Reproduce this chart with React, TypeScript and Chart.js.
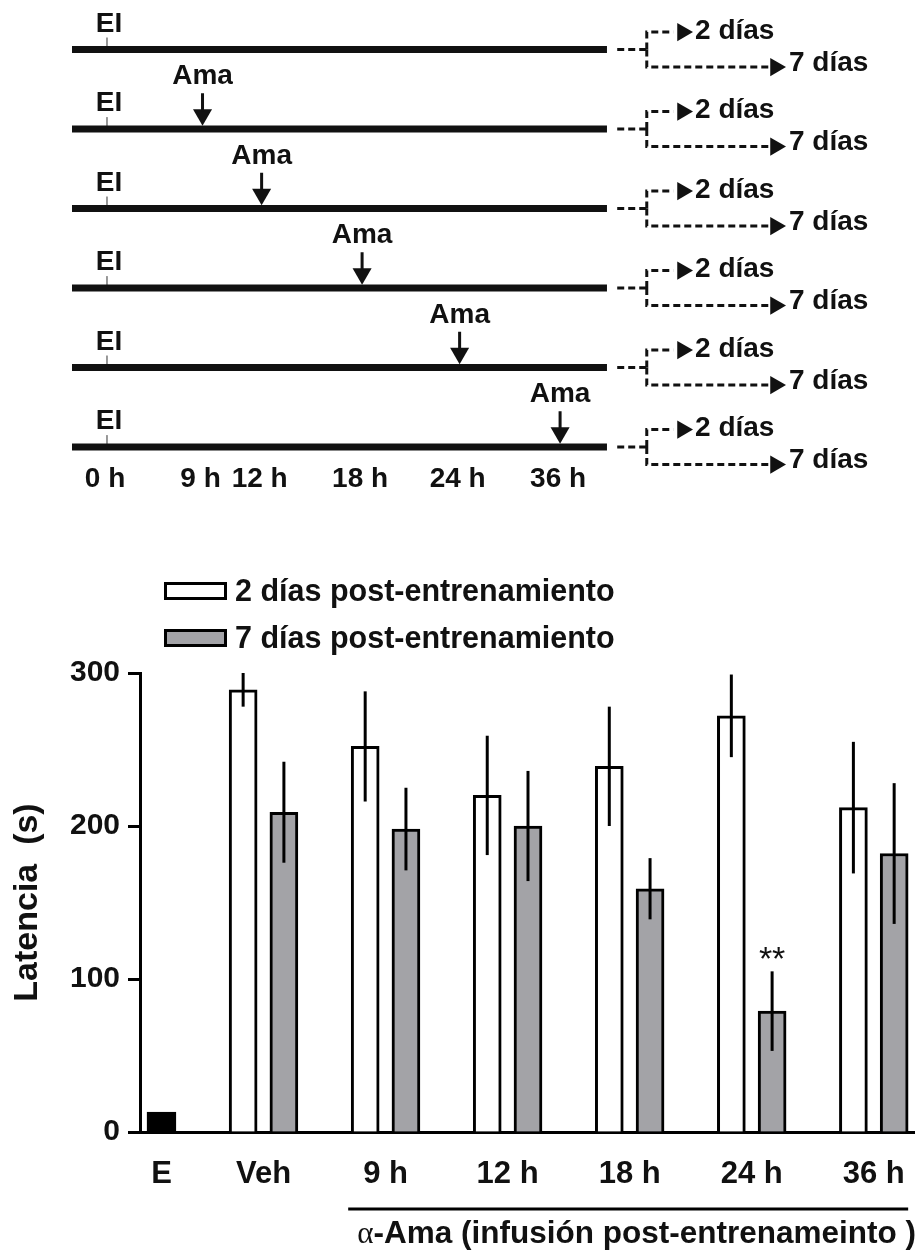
import React, { useEffect, useRef } from "react";
import { Chart, registerables } from "chart.js";

Chart.register(...registerables);

const FONT = "'Liberation Sans', Arial, Helvetica, sans-serif";
const SERIF = "'Liberation Serif', 'DejaVu Serif', serif";
const INK = "#111111";
const GREY = "#a3a3a7";

// ---------- bar chart data ----------
const groups = ["E", "Veh", "9 h", "12 h", "18 h", "24 h", "36 h"];
const groupSlot = [0.164, 1, 2, 3, 4, 5, 6]; // placement of each group on the x axis
const eValue = 13;
const twoDays = [289, 252, 220, 239, 272, 212];
const twoDaysErr = [11, 36, 39, 39, 27, 43];
const sevenDays = [209, 198, 200, 159, 79, 182];
const sevenDaysErr = [33, 27, 36, 20, 26, 46];
const seriesLabels = ["2 días post-entrenamiento", "7 días post-entrenamiento"];
const sevenDaysMarks = ["", "", "", "", "**", ""];
const yTitle = "Latencia  (s)";
const captionAlpha = "α";
const captionText = "-Ama (infusión post-entrenameinto )";

// ---------- timeline data ----------
const timeLabels = ["0 h", "9 h", "12 h", "18 h", "24 h", "36 h"];
const timeSlot = [0, 0.97, 1.57, 2.59, 3.58, 4.6]; // schematic placement of each time
const amaIndex = [null, 1, 2, 3, 4, 5]; // per row: which time the Ama arrow points to
const trainingLabel = "EI";
const drugLabel = "Ama";
const outcomeLabels = ["2 días", "7 días"];

function lineDs(data: any[], width: number, color = INK, dash: number[] = []) {
  return {
    type: "line",
    data,
    borderColor: color,
    borderWidth: width,
    borderDash: dash,
    borderCapStyle: "butt",
    borderJoinStyle: "miter",
    pointRadius: 0,
    showLine: true,
    fill: false,
    tension: 0,
    clip: false,
  };
}
function triDs(data: any[], rotation: number, radius: number) {
  return {
    type: "line",
    data,
    showLine: false,
    pointStyle: "triangle",
    pointRotation: rotation,
    pointRadius: radius,
    pointBackgroundColor: INK,
    pointBorderColor: INK,
    pointBorderWidth: 0,
    clip: false,
  };
}

function timelineDatasets() {
  const ds: any[] = [];
  amaIndex.forEach((ai, r0) => {
    const r = r0 + 1;
    ds.push(lineDs([{ x: -0.355, y: r }, { x: 5.076, y: r }], 7));
    ds.push(lineDs([{ x: timeSlot[0], y: r - 0.15 }, { x: timeSlot[0], y: r - 0.04 }], 1, "#8a8a8a"));
    ds.push(lineDs([{ x: 5.18, y: r }, { x: 5.48, y: r }], 3, INK, [7, 4]));
    ds.push(lineDs([{ x: 5.48, y: r }, { x: 5.48, y: r - 0.22 }, { x: 5.75, y: r - 0.22 }], 3, INK, [7, 4]));
    ds.push(lineDs([{ x: 5.48, y: r }, { x: 5.48, y: r + 0.22 }, { x: 6.72, y: r + 0.22 }], 3, INK, [7, 4]));
    ds.push(triDs([{ x: 5.843, y: r - 0.22 }, { x: 6.787, y: r + 0.22 }], 90, 10.5));
    if (ai != null) {
      const s = timeSlot[ai];
      ds.push(lineDs([{ x: s, y: r - 0.45 }, { x: s, y: r - 0.22 }], 3));
      ds.push(triDs([{ x: s, y: r - 0.18 }], 180, 11));
    }
  });
  return ds;
}

const timelineText = {
  id: "timelineText",
  afterDatasetsDraw(chart: any) {
    const { ctx, scales } = chart;
    const x = scales.x;
    const y = scales.y;
    ctx.save();
    ctx.fillStyle = INK;
    ctx.font = `bold 28px ${FONT}`;
    ctx.textBaseline = "middle";
    amaIndex.forEach((ai, r0) => {
      const r = r0 + 1;
      ctx.textAlign = "center";
      ctx.fillText(trainingLabel, x.getPixelForValue(timeSlot[0] + 0.02), y.getPixelForValue(r - 0.32));
      if (ai != null) {
        ctx.fillText(drugLabel, x.getPixelForValue(timeSlot[ai]), y.getPixelForValue(r - 0.66));
      }
      ctx.textAlign = "left";
      ctx.fillText(outcomeLabels[0], x.getPixelForValue(5.97), y.getPixelForValue(r - 0.235));
      ctx.fillText(outcomeLabels[1], x.getPixelForValue(6.924), y.getPixelForValue(r + 0.17));
    });
    ctx.textAlign = "center";
    timeLabels.forEach((t, i) => {
      ctx.fillText(t, x.getPixelForValue(timeSlot[i] - 0.02), y.getPixelForValue(6.41));
    });
    ctx.restore();
  },
};

const errorBars = {
  id: "errorBars",
  afterDatasetsDraw(chart: any) {
    const { ctx } = chart;
    const yScale = chart.scales.y;
    ctx.save();
    ctx.strokeStyle = "#000";
    ctx.lineWidth = 3;
    ctx.lineCap = "butt";
    chart.data.datasets.forEach((ds: any, di: number) => {
      if (!ds.errors) return;
      const meta = chart.getDatasetMeta(di);
      meta.data.forEach((bar: any, i: number) => {
        const v = ds.data[i].y;
        const e = ds.errors[i];
        ctx.beginPath();
        ctx.moveTo(bar.x, yScale.getPixelForValue(v + e));
        ctx.lineTo(bar.x, yScale.getPixelForValue(v - e));
        ctx.stroke();
        if (ds.marks && ds.marks[i]) {
          ctx.fillStyle = INK;
          ctx.font = `34px ${FONT}`;
          ctx.textAlign = "center";
          ctx.textBaseline = "alphabetic";
          ctx.fillText(ds.marks[i], bar.x, yScale.getPixelForValue(v + e) - 1);
        }
      });
    });
    ctx.restore();
  },
};

const boxLegend = {
  id: "boxLegend",
  afterDraw(chart: any) {
    const { ctx, chartArea } = chart;
    const items = chart.data.datasets.filter((d: any) => d.inLegend);
    ctx.save();
    items.forEach((d: any, i: number) => {
      const cy = chartArea.top - 82 + i * 47;
      const left = chartArea.left + 24;
      ctx.fillStyle = d.backgroundColor;
      ctx.fillRect(left, cy - 9, 63, 18);
      ctx.strokeStyle = "#000";
      ctx.lineWidth = 3;
      ctx.strokeRect(left + 1.5, cy - 7.5, 60, 15);
      ctx.fillStyle = INK;
      ctx.font = `bold 30.5px ${FONT}`;
      ctx.textAlign = "left";
      ctx.textBaseline = "alphabetic";
      ctx.fillText(d.label, left + 71, cy + 10);
    });
    ctx.restore();
  },
};

const groupCaption = {
  id: "groupCaption",
  afterDraw(chart: any) {
    const { ctx, chartArea } = chart;
    const white = chart.getDatasetMeta(1).data;
    const grey = chart.getDatasetMeta(2).data;
    const first = white[1];
    const last = grey[grey.length - 1];
    const x0 = first.x - first.width / 2 - 3;
    const x1 = last.x + last.width / 2;
    const ly = chartArea.bottom + 77;
    ctx.save();
    ctx.strokeStyle = "#000";
    ctx.lineWidth = 3;
    ctx.beginPath();
    ctx.moveTo(x0, ly);
    ctx.lineTo(x1, ly);
    ctx.stroke();
    ctx.fillStyle = INK;
    ctx.textBaseline = "alphabetic";
    ctx.textAlign = "left";
    const by = chartArea.bottom + 111;
    ctx.font = `31px ${SERIF}`;
    const aw = ctx.measureText(captionAlpha).width;
    ctx.fillText(captionAlpha, x0 + 9, by);
    ctx.font = `bold 31.5px ${FONT}`;
    ctx.fillText(captionText, x0 + 9 + aw, by);
    ctx.restore();
  },
};

export default function App() {
  const topRef = useRef<HTMLCanvasElement>(null);
  const botRef = useRef<HTMLCanvasElement>(null);

  useEffect(() => {
    const top = new Chart(topRef.current as HTMLCanvasElement, {
      type: "line",
      data: { datasets: timelineDatasets() as any },
      options: {
        responsive: false,
        devicePixelRatio: 1,
        animation: false,
        events: [],
        layout: { padding: 0, autoPadding: false },
        scales: {
          x: { type: "linear", display: false, min: -1.086, max: 8.264 },
          y: { type: "linear", display: false, reverse: true, min: 0.376, max: 6.917 },
        },
        plugins: { legend: { display: false }, tooltip: { enabled: false } },
      },
      plugins: [timelineText],
    } as any);

    const bars = groups.slice(1);
    const bot = new Chart(botRef.current as HTMLCanvasElement, {
      type: "bar",
      data: {
        datasets: [
          {
            label: groups[0],
            data: [{ x: groupSlot[0], y: eValue }],
            backgroundColor: "#000",
            borderColor: "#000",
            borderWidth: 3,
            barThickness: 29,
            grouped: false,
          },
          {
            label: seriesLabels[0],
            inLegend: true,
            data: bars.map((_, i) => ({ x: groupSlot[i + 1] - 0.167, y: twoDays[i] })),
            errors: twoDaysErr,
            backgroundColor: "#ffffff",
            borderColor: "#000",
            borderWidth: 3,
            barThickness: 28,
            grouped: false,
          },
          {
            label: seriesLabels[1],
            inLegend: true,
            data: bars.map((_, i) => ({ x: groupSlot[i + 1] + 0.167, y: sevenDays[i] })),
            errors: sevenDaysErr,
            marks: sevenDaysMarks,
            backgroundColor: GREY,
            borderColor: "#000",
            borderWidth: 3,
            barThickness: 28,
            grouped: false,
          },
        ] as any,
      },
      options: {
        responsive: false,
        devicePixelRatio: 1,
        animation: false,
        events: [],
        layout: { padding: { top: 153, right: 4, left: 0, bottom: 0 }, autoPadding: false },
        scales: {
          x: {
            type: "linear",
            min: -0.012,
            max: 6.33,
            offset: false,
            grid: { display: false, offset: false },
            border: { display: true, color: "#000", width: 3 },
            afterBuildTicks: (s: any) => {
              s.ticks = groupSlot.map((v) => ({ value: v }));
            },
            afterFit: (s: any) => {
              s.height = 120;
            },
            ticks: {
              autoSkip: false,
              maxRotation: 0,
              minRotation: 0,
              padding: 16,
              color: INK,
              font: { family: FONT, size: 31, weight: "bold" },
              callback: (_v: any, i: number) => groups[i],
            },
          },
          y: {
            type: "linear",
            min: 0,
            max: 300,
            border: { display: true, color: "#000", width: 3 },
            grid: {
              display: true,
              drawOnChartArea: false,
              drawTicks: true,
              tickLength: 12,
              tickWidth: 3,
              tickColor: "#000",
              color: "#000",
            },
            afterFit: (s: any) => {
              s.width = 140;
            },
            ticks: {
              stepSize: 100,
              padding: 8,
              color: INK,
              font: { family: FONT, size: 30, weight: "bold" },
            },
            title: {
              display: true,
              text: yTitle,
              color: INK,
              padding: { top: 7, bottom: 0 },
              font: { family: FONT, size: 34, weight: "bold" },
            },
          },
        },
        plugins: { legend: { display: false }, tooltip: { enabled: false } },
      },
      plugins: [errorBars, boxLegend, groupCaption],
    } as any);

    return () => {
      top.destroy();
      bot.destroy();
    };
  }, []);

  return (
    <div style={{ position: "absolute", left: 0, top: 0, width: 921, height: 1252, background: "#fff", overflow: "hidden" }}>
      <canvas
        ref={topRef}
        width={921}
        height={520}
        style={{ position: "absolute", left: 0, top: 0, width: 921, height: 520 }}
      />
      <canvas
        ref={botRef}
        width={921}
        height={732}
        style={{ position: "absolute", left: 0, top: 520, width: 921, height: 732 }}
      />
    </div>
  );
}
